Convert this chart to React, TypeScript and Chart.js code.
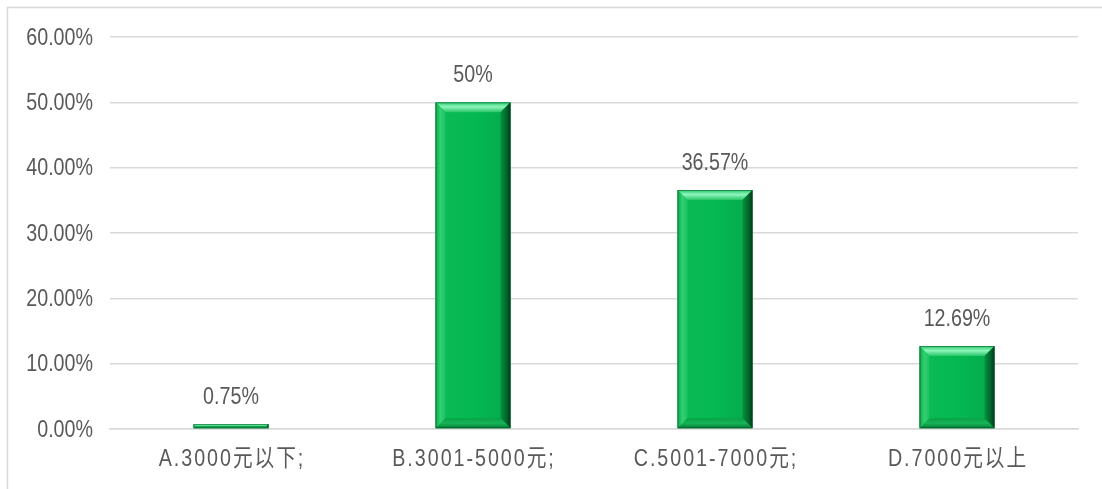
import React, { useEffect, useRef } from "react";
import { Chart, registerables } from "chart.js";

Chart.register(...registerables);

// Income brackets and their shares (percent)
const categories = ["A.3000元以下;", "B.3001-5000元;", "C.5001-7000元;", "D.7000元以上"];
const shares = [0.75, 50, 36.57, 12.69];
const shareLabels = ["0.75%", "50%", "36.57%", "12.69%"];
const yTicks = [0, 10, 20, 30, 40, 50, 60];

const FONT = "'Liberation Sans', 'Noto Sans CJK SC', sans-serif";
const FONT_SIZE = 24;
const CONDENSE = 0.82; // horizontal squeeze for a narrow face
const TEXT = "#595959";
const GRID = "#d9d9d9";

// Writes text in a horizontally condensed version of the font
function condensedText(
  ctx: CanvasRenderingContext2D,
  text: string,
  x: number,
  y: number,
  align: CanvasTextAlign,
  spacing = 0
) {
  ctx.save();
  ctx.fillStyle = TEXT;
  ctx.font = `${FONT_SIZE}px ${FONT}`;
  (ctx as any).letterSpacing = `${spacing}px`;
  ctx.textAlign = align;
  ctx.textBaseline = "middle";
  ctx.translate(x, y);
  ctx.scale(CONDENSE, 1);
  ctx.fillText(text, 0, 0);
  ctx.restore();
}

// Outer frame of the chart (top and left edges)
const framePlugin = {
  id: "frame",
  beforeDraw(chart: any) {
    const ctx = chart.ctx;
    ctx.save();
    ctx.strokeStyle = GRID;
    ctx.lineWidth = 1.5;
    ctx.beginPath();
    ctx.moveTo(7.5, chart.height);
    ctx.lineTo(7.5, 7.5);
    ctx.lineTo(chart.width, 7.5);
    ctx.stroke();
    ctx.restore();
  },
};

// Axis labels: percent ticks on the left, category names below
const axisLabelPlugin = {
  id: "axisLabels",
  afterDraw(chart: any) {
    const ctx = chart.ctx;
    const xs = chart.scales.x;
    const ys = chart.scales.y;
    yTicks.forEach((v) => {
      condensedText(ctx, v.toFixed(2) + "%", 93, ys.getPixelForValue(v) + 1, "right");
    });
    categories.forEach((c, i) => {
      condensedText(ctx, c, xs.getPixelForValue(i) + 1, chart.chartArea.bottom + 30, "center", 2.4);
    });
  },
};

// Beveled look for each bar plus the value label above it
const bevelPlugin = {
  id: "bevel",
  afterDatasetsDraw(chart: any) {
    const ctx = chart.ctx;
    const meta = chart.getDatasetMeta(0);
    meta.data.forEach((bar: any, i: number) => {
      const l = bar.x - bar.width / 2;
      const r = bar.x + bar.width / 2;
      const t = bar.y;
      const btm = bar.base;
      const h = btm - t;
      const b = Math.min(10, h / 2);
      ctx.save();
      // front face
      const face = ctx.createLinearGradient(l, 0, r, 0);
      face.addColorStop(0, "#0cbb56");
      face.addColorStop(0.5, "#05b852");
      face.addColorStop(1, "#03aa4a");
      ctx.fillStyle = face;
      ctx.fillRect(l, t, r - l, h);
      // top bevel
      const top = ctx.createLinearGradient(0, t, 0, t + b);
      top.addColorStop(0, "#2ccf70");
      top.addColorStop(0.45, "#8ef5bb");
      top.addColorStop(1, "#27c567");
      ctx.fillStyle = top;
      ctx.beginPath();
      ctx.moveTo(l, t);
      ctx.lineTo(r, t);
      ctx.lineTo(r - b, t + b);
      ctx.lineTo(l + b, t + b);
      ctx.closePath();
      ctx.fill();
      // left bevel
      const left = ctx.createLinearGradient(l, 0, l + b, 0);
      left.addColorStop(0, "#10a84c");
      left.addColorStop(0.5, "#2fd173");
      left.addColorStop(1, "#1cc062");
      ctx.fillStyle = left;
      ctx.beginPath();
      ctx.moveTo(l, t);
      ctx.lineTo(l + b, t + b);
      ctx.lineTo(l + b, btm - b);
      ctx.lineTo(l, btm);
      ctx.closePath();
      ctx.fill();
      // right bevel
      const right = ctx.createLinearGradient(r - b, 0, r, 0);
      right.addColorStop(0, "#05923f");
      right.addColorStop(0.6, "#01662b");
      right.addColorStop(1, "#003a17");
      ctx.fillStyle = right;
      ctx.beginPath();
      ctx.moveTo(r, t);
      ctx.lineTo(r, btm);
      ctx.lineTo(r - b, btm - b);
      ctx.lineTo(r - b, t + b);
      ctx.closePath();
      ctx.fill();
      // bottom bevel
      const bot = ctx.createLinearGradient(0, btm - b, 0, btm);
      bot.addColorStop(0, "#0a9f46");
      bot.addColorStop(0.5, "#16b458");
      bot.addColorStop(1, "#057a33");
      ctx.fillStyle = bot;
      ctx.beginPath();
      ctx.moveTo(l, btm);
      ctx.lineTo(r, btm);
      ctx.lineTo(r - b, btm - b);
      ctx.lineTo(l + b, btm - b);
      ctx.closePath();
      ctx.fill();
      // thin outline
      ctx.strokeStyle = "rgba(0,70,30,0.5)";
      ctx.lineWidth = 1;
      ctx.strokeRect(l + 0.5, t + 0.5, r - l - 1, h - 1);
      ctx.restore();
      // value label
      condensedText(ctx, shareLabels[i], bar.x, t - 27, "center");
    });
  },
};

export default function App() {
  const ref = useRef<HTMLCanvasElement>(null);

  useEffect(() => {
    if (!ref.current) return;
    const chart = new Chart(ref.current, {
      type: "bar",
      data: {
        labels: categories,
        datasets: [
          {
            data: shares,
            backgroundColor: "rgba(0,0,0,0)",
            categoryPercentage: 1,
            barPercentage: 0.31,
          },
        ],
      },
      options: {
        animation: false,
        responsive: false,
        maintainAspectRatio: false,
        layout: { padding: { top: 37, right: 24, left: 0, bottom: 0 } },
        plugins: {
          legend: { display: false },
          tooltip: { enabled: false },
        },
        scales: {
          x: {
            grid: { display: false },
            border: { display: true, color: GRID, width: 1.5 },
            ticks: { display: false },
            afterFit(scale: any) {
              scale.height = 60;
            },
          },
          y: {
            min: 0,
            max: 60,
            afterBuildTicks(scale: any) {
              scale.ticks = yTicks.map((v) => ({ value: v }));
            },
            grid: { color: GRID, lineWidth: 1.5, drawTicks: false },
            border: { display: false },
            ticks: { display: false },
            afterFit(scale: any) {
              scale.width = 110;
            },
          },
        },
      },
      plugins: [framePlugin, bevelPlugin, axisLabelPlugin],
    });
    return () => chart.destroy();
  }, []);

  return (
    <div style={{ position: "absolute", left: 0, top: 0, width: 1102, height: 489, background: "#fff" }}>
      <canvas ref={ref} width={1102} height={489} />
    </div>
  );
}
